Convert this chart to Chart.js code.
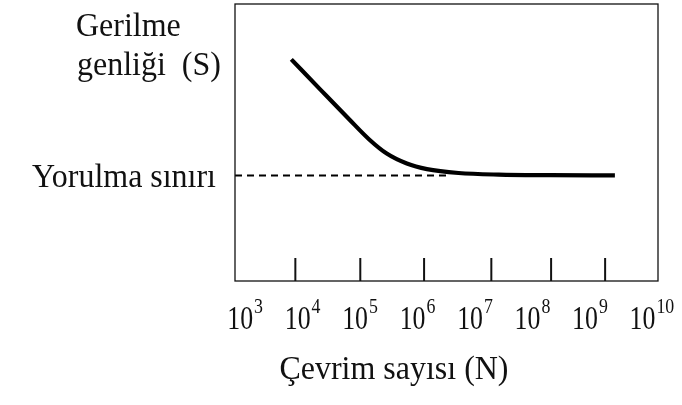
<!DOCTYPE html>
<html lang="tr">
<head>
<meta charset="UTF-8">
<title>Gerilme - Çevrim sayısı</title>
<style>
    body { margin: 0; background: #fff; }
    #wrap { width: 682px; height: 405px; }
</style>
</head>
<body>
<div id="wrap">
    <canvas id="snChart" width="682" height="405"></canvas>
</div>
<script src="https://cdn.jsdelivr.net/npm/chart.js"></script>
<script>
// log10(N) on x, stress amplitude (relative units) on y
const cycleExp   = [3.89, 4.40, 4.90, 5.25, 5.55, 5.90, 6.25, 6.80, 7.50, 8.40, 9.52];
const stressAmp  = [80.0, 69.0, 58.3, 51.0, 46.0, 42.4, 40.4, 39.0, 38.4, 38.2, 38.1];
const enduranceLimit = 38.1;
const limitFromTo = [2.91, 6.65];
const tickMarks  = [3.96, 5.09, 6.20, 7.37, 8.41, 9.35];
const labelExps  = [3, 4, 5, 6, 7, 8, 9, 10];

const serif = '"Liberation Serif", "DejaVu Serif", serif';

// text helper with horizontal squeeze
function text(ctx, str, x, y, size, align, sx) {
    ctx.save();
    ctx.font = size + 'px ' + serif;
    ctx.textAlign = align;
    ctx.textBaseline = 'alphabetic';
    ctx.translate(x, y);
    ctx.scale(sx, 1);
    ctx.fillText(str, 0, 0);
    ctx.restore();
}

const frame = {
    id: 'frame',
    afterDraw(chart) {
        const ctx = chart.ctx;
        const a = chart.chartArea;
        const xs = chart.scales.x;
        ctx.save();
        ctx.strokeStyle = '#111';
        ctx.fillStyle = '#111';

        ctx.lineWidth = 1.3;
        ctx.strokeRect(a.left, a.top, a.right - a.left, a.bottom - a.top);

        // tick marks point inward from the bottom edge
        ctx.lineWidth = 2;
        tickMarks.forEach(v => {
            const px = xs.getPixelForValue(v);
            ctx.beginPath();
            ctx.moveTo(px, a.bottom);
            ctx.lineTo(px, a.bottom - 23);
            ctx.stroke();
        });

        // 10^n labels
        const sx = 0.76;
        labelExps.forEach(e => {
            const px = xs.getPixelForValue(e);
            ctx.font = '34px ' + serif;
            const w = ctx.measureText('10').width * sx;
            text(ctx, '10', px, 329, 34, 'center', sx);
            text(ctx, String(e), px + w / 2 + 1, 313, 21, 'left', 0.85);
        });

        text(ctx, 'Gerilme', 76, 36, 34, 'left', 0.94);
        text(ctx, 'genliği  (S)', 77, 75, 34, 'left', 0.94);
        text(ctx, 'Yorulma sınırı', 216, 187, 34, 'right', 0.94);
        text(ctx, 'Çevrim sayısı (N)', 394, 379, 34, 'center', 0.94);
        ctx.restore();
    }
};

new Chart(document.getElementById('snChart'), {
    type: 'line',
    data: {
        datasets: [{
            label: 'S-N',
            data: cycleExp.map((x, i) => ({ x: x, y: stressAmp[i] })),
            borderColor: '#000',
            borderWidth: 4.2,
            cubicInterpolationMode: 'monotone',
            pointRadius: 0,
            fill: false
        }, {
            label: 'Yorulma sınırı',
            data: limitFromTo.map(x => ({ x: x, y: enduranceLimit })),
            borderColor: '#000',
            borderWidth: 2,
            borderDash: [7, 5],
            pointRadius: 0,
            fill: false
        }]
    },
    options: {
        responsive: false,
        animation: false,
        layout: { padding: { left: 235, right: 24, top: 4, bottom: 124 } },
        plugins: { legend: { display: false }, tooltip: { enabled: false } },
        scales: {
            x: { type: 'linear', min: 2.91, max: 10.27, display: false },
            y: { type: 'linear', min: 0, max: 100, display: false }
        }
    },
    plugins: [frame]
});
</script>
</body>
</html>
